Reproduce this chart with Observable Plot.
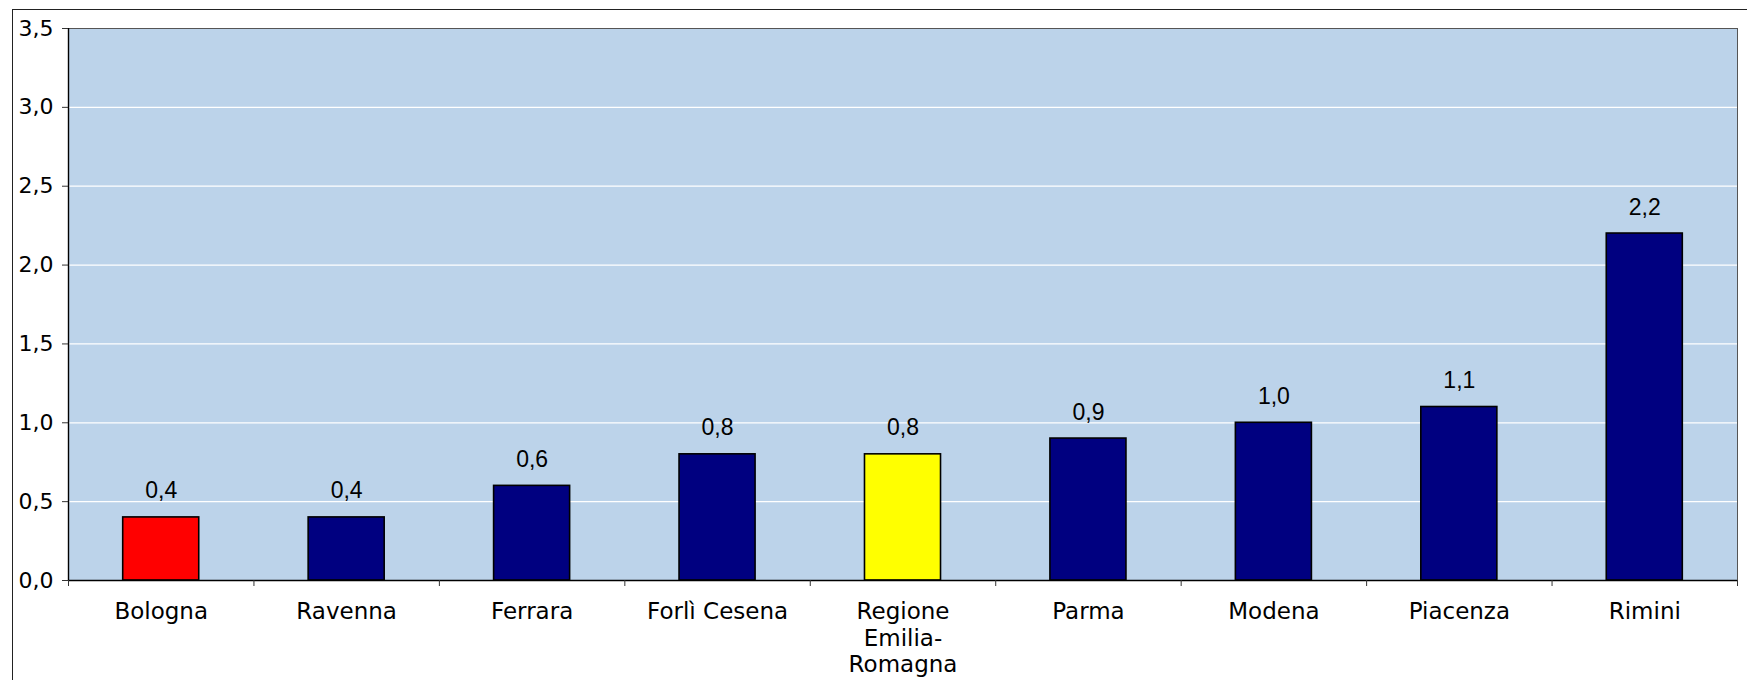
<!DOCTYPE html>
<html>
<head>
<meta charset="utf-8">
<script src="https://cdn.jsdelivr.net/npm/d3@7"></script>
<script src="https://cdn.jsdelivr.net/npm/@observablehq/plot@0.6"></script>
<style>
  html, body { margin: 0; padding: 0; background: #fff; overflow: hidden; }
  #wrap { position: relative; width: 1747px; height: 680px; }
  #border { position: absolute; left: 12px; top: 9px; right: -10px; bottom: -10px;
            border: 1.5px solid #222; pointer-events: none; }
</style>
</head>
<body>
<div id="wrap"><div id="chart"></div><div id="border"></div></div>
<script>
const categories = ["Bologna", "Ravenna", "Ferrara", "Forlì Cesena", "Regione\nEmilia-\nRomagna", "Parma", "Modena", "Piacenza", "Rimini"];
const values = [0.4, 0.4, 0.6, 0.8, 0.8, 0.9, 1.0, 1.1, 2.2];
const barColors = ["#FF0000", "#000080", "#000080", "#000080", "#FFFF00", "#000080", "#000080", "#000080", "#000080"];
const yTicks = [0, 0.5, 1.0, 1.5, 2.0, 2.5, 3.0, 3.5];

const comma = d => d.toFixed(1).replace(".", ",");
const data = categories.map((c, i) => ({ category: c, value: values[i], color: barColors[i], index: i }));
const pad = 0.295;
const boundaries = d3.range(categories.length + 1);

const chart = Plot.plot({
  width: 1747,
  height: 680,
  marginLeft: 68,
  marginRight: 10,
  marginTop: 28,
  marginBottom: 100,
  style: { fontFamily: "'DejaVu Sans', Verdana, sans-serif", fontSize: "22px", color: "#000", background: "transparent" },
  x: { domain: [0, categories.length], axis: null },
  y: { domain: [0, 3.5], axis: null },
  marks: [
    Plot.frame({ fill: "#BCD3EA", stroke: "#555", strokeWidth: 1 }),
    Plot.ruleY(yTicks.slice(1, -1), { stroke: "#fff", strokeWidth: 1.2 }),
    Plot.rectY(data, {
      x1: d => d.index + pad, x2: d => d.index + 1 - pad, y: "value",
      fill: "color", stroke: "#000", strokeWidth: 1.6
    }),
    Plot.ruleY([0], { stroke: "#000", strokeWidth: 1.4 }),
    Plot.ruleX([0], { stroke: "#000", strokeWidth: 1.4 }),
    Plot.axisY({ ticks: yTicks, tickFormat: comma, tickSize: 6, tickPadding: 9, stroke: "#333", fontSize: 22, label: null }),
    Plot.axisX({ ticks: boundaries, tickFormat: () => "", tickSize: 6, stroke: "#333", label: null }),
    Plot.text(data, {
      x: d => d.index + 0.5, y: () => 0, text: "category",
      lineAnchor: "top", dy: 19, lineHeight: 1.17, fontSize: 23, fill: "#000"
    }),
    Plot.text(data, {
      x: d => d.index + 0.5, y: "value", text: d => comma(d.value),
      lineAnchor: "bottom", dy: -19, fontFamily: "'Liberation Sans', Arial, sans-serif", fontSize: 23, fill: "#000"
    })
  ]
});
document.getElementById("chart").appendChild(chart);
</script>
</body>
</html>
